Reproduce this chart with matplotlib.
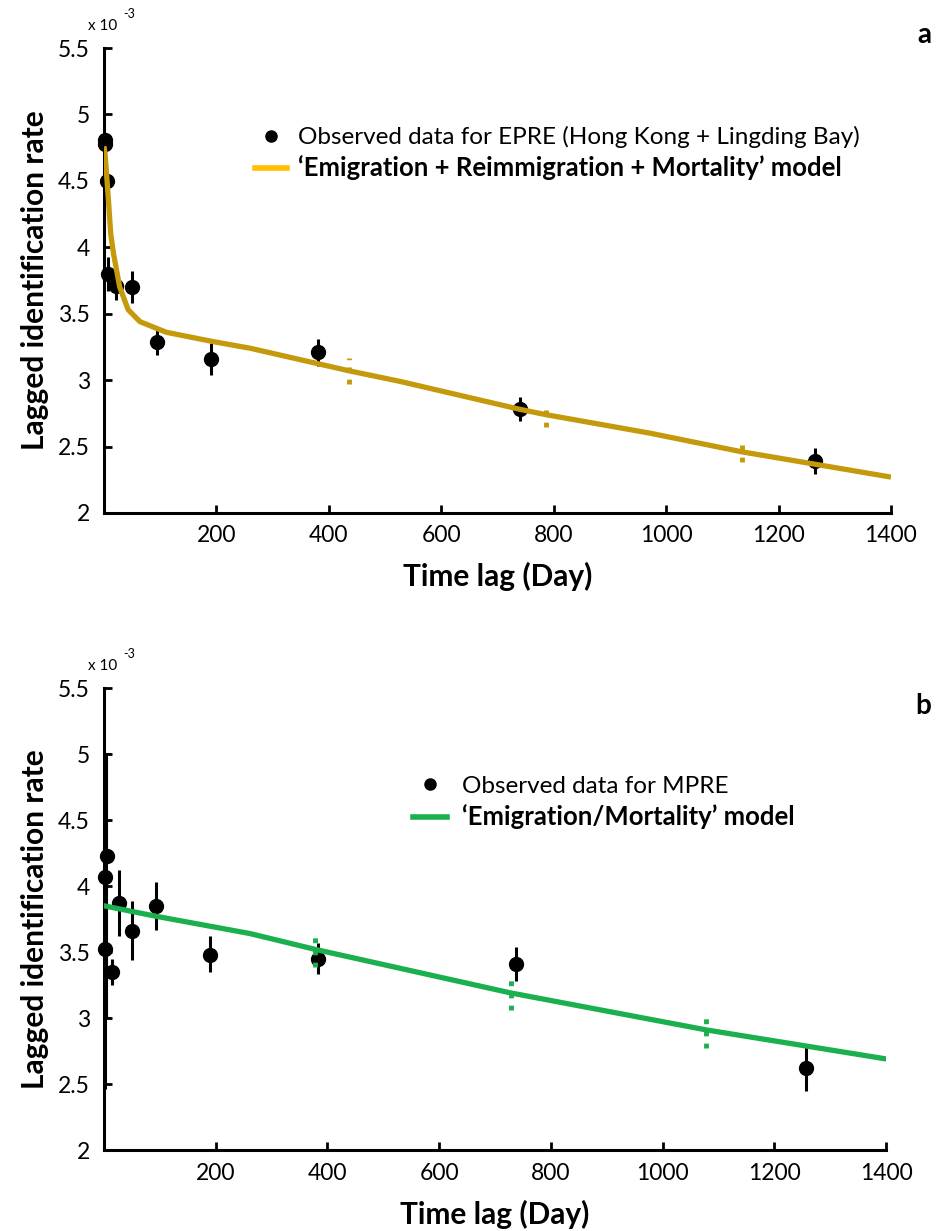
import matplotlib
matplotlib.use("Agg")
import matplotlib.pyplot as plt
from matplotlib.lines import Line2D
import numpy as np

plt.rcParams['font.family'] = ['Lato', 'DejaVu Sans']

# ---- panel a : EPRE ----
a_days = [1, 1, 5, 8, 22, 49, 95, 190, 380, 740, 1265]
a_rate = [4.81, 4.78, 4.50, 3.80, 3.71, 3.70, 3.29, 3.16, 3.21, 2.78, 2.39]
a_err = [0.03, 0.03, 0.04, 0.13, 0.11, 0.12, 0.10, 0.12, 0.10, 0.09, 0.10]

a_model_days = [0, 2, 8, 12, 17, 28, 43, 64, 111, 194, 260, 436, 527, 740, 786, 972, 1135, 1400]
a_model_rate = [4.76, 4.70, 4.35, 4.10, 3.95, 3.70, 3.53, 3.44, 3.36, 3.29, 3.24,
                3.07, 2.99, 2.78, 2.74, 2.60, 2.46, 2.27]

a_mark_days = [436, 786, 1135]
a_mark_lo = [2.97, 2.65, 2.38]
a_mark_hi = [3.17, 2.80, 2.53]

# ---- panel b : MPRE ----
b_days = [1, 2, 14, 26, 50, 93, 190, 383, 737, 1256]
b_rate = [4.07, 3.52, 3.35, 3.87, 3.66, 3.85, 3.48, 3.45, 3.41, 2.62]
b_lo = [3.40, 2.46, 3.25, 3.62, 3.44, 3.67, 3.35, 3.33, 3.28, 2.45]
b_hi = [4.72, 3.65, 3.45, 4.12, 3.89, 4.03, 3.62, 3.57, 3.54, 2.79]

# the one point drawn with caps
b_cap_day = [6]
b_cap_rate = [4.23]
b_cap_lo = [3.00]
b_cap_hi = [5.00]

b_model_days = [0, 94, 261, 378, 728, 1078, 1400]
b_model_rate = [3.85, 3.77, 3.64, 3.52, 3.19, 2.91, 2.69]

b_mark_days = [378, 728, 1078]
b_mark_lo = [3.39, 3.06, 2.77]
b_mark_hi = [3.65, 3.31, 3.03]

xticks = [200, 400, 600, 800, 1000, 1200, 1400]
yticks = [2, 2.5, 3, 3.5, 4, 4.5, 5, 5.5]
ytick_labels = ['2', '2.5', '3', '3.5', '4', '4.5', '5', '5.5']

gold = '#C49A0A'
gold_legend = '#FFC000'
green = '#1BB04F'


def style_axis(ax):
    for s in ['top', 'right']:
        ax.spines[s].set_visible(False)
    for s in ['left', 'bottom']:
        ax.spines[s].set_linewidth(2.2)
    ax.set_xlim(0, 1400)
    ax.set_ylim(2, 5.5)
    ax.set_xticks(xticks)
    ax.set_yticks(yticks)
    ax.set_yticklabels(ytick_labels)
    ax.tick_params(direction='in', length=6, width=2, labelsize=16.5)
    ax.tick_params(axis='y', pad=10)
    ax.tick_params(axis='x', pad=9)
    ax.set_xlabel('Time lag (Day)', fontsize=21.5, fontweight='bold')
    ax.set_ylabel('Lagged identification rate', fontsize=21.5, fontweight='bold')
    ax.yaxis.set_label_coords(-0.07, 0.5)


fig = plt.figure(figsize=(9.36, 12.31), dpi=100)
ax_a = fig.add_axes([0.1111, 0.5833, 0.8408, 0.3777])
ax_b = fig.add_axes([0.1111, 0.0658, 0.8355, 0.3753])

dots = (0, (1, 1.5))

# panel a
ax_a.errorbar(a_days, a_rate, yerr=a_err, fmt='o', color='k', ms=10,
              elinewidth=2.2, capsize=0, zorder=3, clip_on=False)
ax_a.plot(a_model_days, a_model_rate, color=gold, lw=3.8, zorder=4,
          solid_capstyle='butt', solid_joinstyle='round')
ax_a.vlines(a_mark_days, a_mark_lo, a_mark_hi, colors=gold, lw=3.5,
            linestyles=dots, zorder=4)
style_axis(ax_a)
ax_a.xaxis.set_label_coords(0.5, -0.105)

h_a = [Line2D([], [], marker='o', color='k', ls='none', ms=8),
       Line2D([], [], color=gold_legend, lw=4)]
leg_a = ax_a.legend(h_a, ['Observed data for EPRE (Hong Kong + Lingding Bay)',
                          '\u2018Emigration + Reimmigration + Mortality\u2019 model'],
                    loc='upper left', bbox_to_anchor=(0.192, 0.832), frameon=False,
                    fontsize=17.5, handlelength=1.3, handletextpad=0.45,
                    labelspacing=0.3, borderpad=0, borderaxespad=0)
leg_a.get_texts()[1].set_fontweight('bold')
leg_a.get_texts()[1].set_fontsize(18.5)

# panel b
b_rate_arr = np.array(b_rate)
b_yerr = [b_rate_arr - np.array(b_lo), np.array(b_hi) - b_rate_arr]
ax_b.errorbar(b_days, b_rate, yerr=b_yerr, fmt='o', color='k', ms=10,
              elinewidth=2.2, capsize=0, zorder=3, clip_on=False)
bc = np.array(b_cap_rate)
ax_b.errorbar(b_cap_day, b_cap_rate,
              yerr=[bc - np.array(b_cap_lo), np.array(b_cap_hi) - bc],
              fmt='o', color='k', ms=10, elinewidth=1.5, capsize=3, capthick=1.5,
              zorder=3, clip_on=False)
ax_b.plot(b_model_days, b_model_rate, color=green, lw=3.8, zorder=4,
          solid_joinstyle='round')
ax_b.vlines(b_mark_days, b_mark_lo, b_mark_hi, colors=green, lw=3.5,
            linestyles=dots, zorder=4)
style_axis(ax_b)
ax_b.xaxis.set_label_coords(0.5, -0.108)

h_b = [Line2D([], [], marker='o', color='k', ls='none', ms=8),
       Line2D([], [], color=green, lw=4)]
leg_b = ax_b.legend(h_b, ['Observed data for MPRE',
                          '\u2018Emigration/Mortality\u2019 model'],
                    loc='upper left', bbox_to_anchor=(0.395, 0.81), frameon=False,
                    fontsize=17.5, handlelength=1.4, handletextpad=0.6,
                    labelspacing=0.3, borderpad=0, borderaxespad=0)
leg_b.get_texts()[1].set_fontweight('bold')
leg_b.get_texts()[1].set_fontsize(18.5)

# scale factor notes and panel letters
for top in [30, 670]:
    fig.text(88 / 936, 1 - top / 1231, 'x 10', fontsize=11, va='baseline')
    fig.text(123 / 936, 1 - (top - 12) / 1231, '-3', fontsize=9, va='baseline')

fig.text(0.995, 1 - 35 / 1231, 'a', fontsize=20, fontweight='bold', ha='right', va='center')
fig.text(0.995, 1 - 706 / 1231, 'b', fontsize=20, fontweight='bold', ha='right', va='center')

fig.savefig('out.png', dpi=100)
